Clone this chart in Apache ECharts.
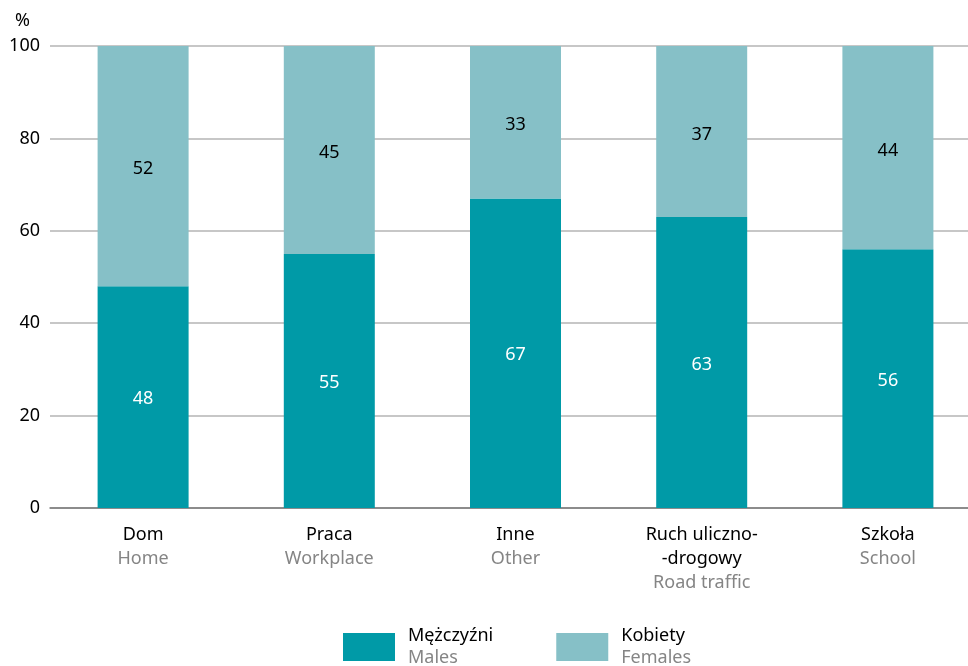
<!DOCTYPE html>
<html>
<head>
<meta charset="utf-8">
<script src="https://cdn.jsdelivr.net/npm/echarts@6/dist/echarts.min.js"></script>
<style>html,body{margin:0;padding:0;background:#fff}#c{width:968px;height:666px}</style>
</head>
<body>
<div id="c"></div>
<script>
var categoriesPL = ['Dom', 'Praca', 'Inne', 'Ruch uliczno-\n-drogowy', 'Szkoła'];
var categoriesEN = ['Home', 'Workplace', 'Other', 'Road traffic', 'School'];
var males = [48, 55, 67, 63, 56];
var females = [52, 45, 33, 37, 44];
var yTicks = [0, 20, 40, 60, 80, 100];
var seriesNamesPL = ['Mężczyźni', 'Kobiety'];
var seriesNamesEN = ['Males', 'Females'];

var FONT = '"Noto Sans", "Open Sans", sans-serif';
var FS = 18;
var chart = echarts.init(document.getElementById('c'));
var xLabels = categoriesPL.map(function (c, i) { return c + '|' + categoriesEN[i]; });

chart.setOption({
  animation: false,
  textStyle: { fontFamily: FONT },
  grid: { left: 50, width: 931, top: 46, bottom: 158, outerBoundsMode: 'none', containLabel: false },
  legend: {
    left: 343, top: 627, padding: 0,
    itemWidth: 52, itemHeight: 28, itemGap: 63,
    icon: 'rect',
    data: seriesNamesPL,
    formatter: function (name) {
      var i = seriesNamesPL.indexOf(name);
      return '{a|' + name + '}\n{b|' + seriesNamesEN[i] + '}';
    },
    textStyle: {
      rich: {
        a: { fontSize: FS, color: '#000', lineHeight: 22, padding: [0, 0, 0, 8], fontFamily: FONT },
        b: { fontSize: FS, color: '#858585', lineHeight: 22, padding: [0, 0, 0, 8], fontFamily: FONT }
      }
    }
  },
  xAxis: {
    type: 'category',
    data: xLabels,
    axisLine: { show: true, lineStyle: { color: '#7a7a7a', width: 1.5 } },
    axisTick: { show: false },
    axisLabel: {
      margin: 15,
      interval: 0,
      formatter: function (v) {
        var p = v.split('|');
        var pl = p[0].split('\n').map(function (s) { return '{a|' + s + '}'; }).join('\n');
        return pl + '\n{b|' + p[1] + '}';
      },
      rich: {
        a: { fontSize: FS, color: '#000', lineHeight: 24, fontFamily: FONT },
        b: { fontSize: FS, color: '#858585', lineHeight: 24, fontFamily: FONT }
      }
    }
  },
  yAxis: {
    type: 'value', min: 0, max: 100, interval: 20,
    name: '%', nameLocation: 'end', nameGap: 16,
    nameTextStyle: { fontSize: FS, color: '#000', align: 'right', padding: [0, 20, 0, 0], fontFamily: FONT },
    axisLine: { show: false }, axisTick: { show: false },
    axisLabel: { fontSize: FS, color: '#000', margin: 10, fontFamily: FONT,
      formatter: function (v) { return yTicks.indexOf(v) >= 0 ? String(v) : ''; } },
    splitLine: { lineStyle: { color: '#b5b5b5', width: 1.5 } }
  },
  series: [
    {
      name: seriesNamesPL[0], type: 'bar', stack: 's', barWidth: 91,
      data: males,
      itemStyle: { color: '#009aa7' },
      label: { show: true, position: 'inside', offset: [0, 2], color: '#fff', fontSize: FS, fontFamily: FONT }
    },
    {
      name: seriesNamesPL[1], type: 'bar', stack: 's', barWidth: 91,
      data: females,
      itemStyle: { color: '#86c0c7' },
      label: { show: true, position: 'inside', offset: [0, 3], color: '#000', fontSize: FS, fontFamily: FONT }
    }
  ]
});
</script>
</body>
</html>
